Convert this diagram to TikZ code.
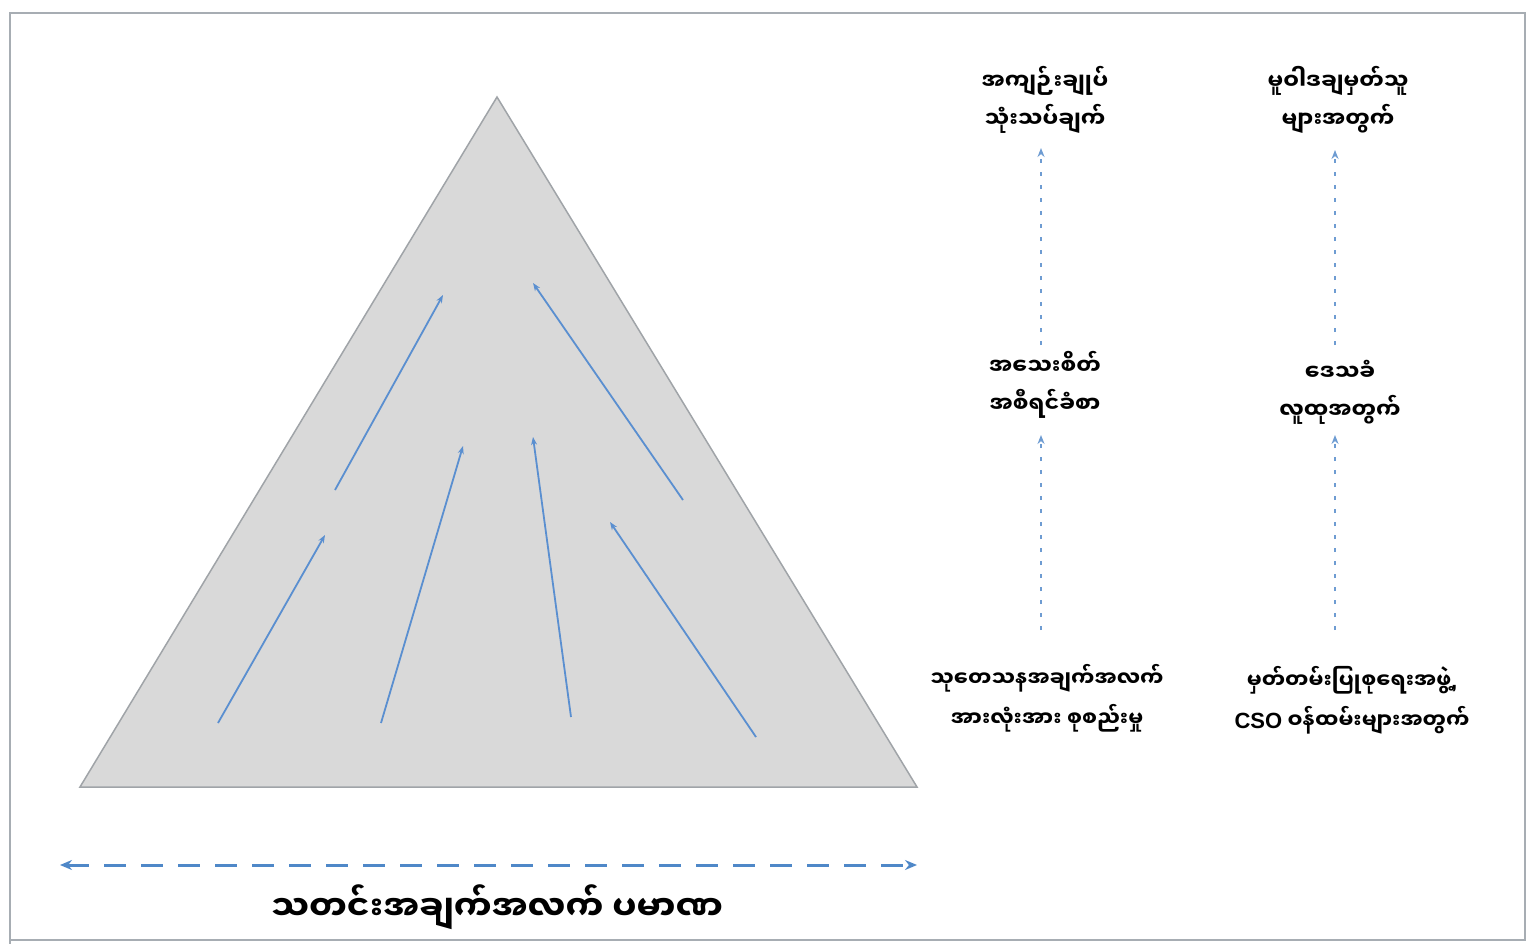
\documentclass[tikz,border=0pt]{standalone}
\usepackage{fontspec}
\newfontfamily\mmfont[Script=Myanmar]{Noto Sans Myanmar UI}
\newfontfamily\latfont{Liberation Sans}
\usetikzlibrary{arrows.meta}
\definecolor{framegray}{HTML}{A7ADB3}
\definecolor{trifill}{HTML}{D9D9D9}
\definecolor{triedge}{HTML}{A0A4A8}
\definecolor{arrblue}{HTML}{5A8FD0}
\definecolor{dashblue}{HTML}{6E9CD2}
\definecolor{bigblue}{HTML}{4F88C8}
\tikzset{
  flowarrow/.style={draw=arrblue, line width=1.8pt, -{Stealth[length=8pt,width=6pt]}},
  dotarrow/.style={draw=dashblue, line width=2.6pt, dash pattern=on 4pt off 9pt, -{Stealth[length=9pt,width=7pt]}},
  lab/.style={font=\mmfont\bfseries\fontsize{22}{38}\selectfont, align=center, inner sep=0pt},
  smalllab/.style={font=\mmfont\bfseries\fontsize{21}{40}\selectfont, align=center, inner sep=0pt},
  titlelab/.style={font=\mmfont\bfseries\fontsize{34}{40}\selectfont, inner sep=0pt},
}
\begin{document}
\begin{tikzpicture}[x=1pt,y=-1pt]
\useasboundingbox (0,0) rectangle (1531,944);
% frame
\draw[framegray, line width=2.5pt] (10,944) -- (10,13) -- (1525,13) -- (1525,940) -- (10,940);
% triangle
\draw[triedge, fill=trifill, line width=1.5pt] (497,97) -- (917,787) -- (80,787) -- cycle;
% inner arrows
\coordinate (a1s) at (335,490); \coordinate (a1e) at (443,295);
\coordinate (a2s) at (683,500); \coordinate (a2e) at (533,283);
\coordinate (a3s) at (218,723); \coordinate (a3e) at (325,535);
\coordinate (a4s) at (381,723); \coordinate (a4e) at (463,446);
\coordinate (a5s) at (571,717); \coordinate (a5e) at (533,437);
\coordinate (a6s) at (756,737); \coordinate (a6e) at (610,522);
\foreach \i in {1,...,6} \draw[flowarrow] (a\i s) -- (a\i e);
% labels
\node[lab] (t1) at (1045,100) {အကျဉ်းချုပ်\\သုံးသပ်ချက်};
\node[lab] (t2) at (1338,100) {မူဝါဒချမှတ်သူ\\များအတွက်};
\node[lab] (m1) at (1045,385) {အသေးစိတ်\\အစီရင်ခံစာ};
\node[lab] (m2) at (1340,392) {ဒေသခံ\\လူထုအတွက်};
\node[smalllab] (b1) at (1047,698) {သုတေသနအချက်အလက်\\အားလုံးအား စုစည်းမှု};
\node[smalllab] (b2) at (1352,700) {မှတ်တမ်းပြုစုရေးအဖွဲ့{\latfont\bfseries,}\\{\latfont\bfseries\fontsize{22}{40}\selectfont CSO} ဝန်ထမ်းများအတွက်};
\node[titlelab] (ttl) at (497,907) {သတင်းအချက်အလက် ပမာဏ};
% dotted arrows
\draw[dotarrow] (1041,630) -- (1041,435);
\draw[dotarrow] (1041,345) -- (1041,148);
\draw[dotarrow] (1335,630) -- (1335,435);
\draw[dotarrow] (1335,345) -- (1335,150);
% bottom double arrow
\coordinate (hl) at (60,865); \coordinate (hr) at (917,865);
\draw[bigblue, line width=3pt, dash pattern=on 22pt off 15pt, {Stealth[length=12pt,width=10pt]}-{Stealth[length=12pt,width=10pt]}] (hl) -- (hr);
\end{tikzpicture}
\end{document}
